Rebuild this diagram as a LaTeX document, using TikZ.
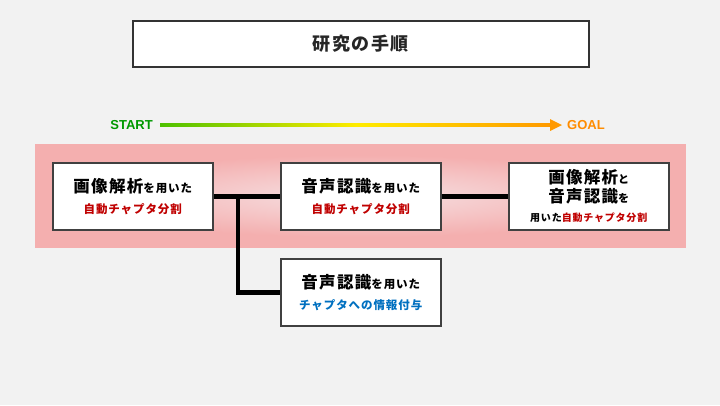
\documentclass[tikz,border=0pt]{standalone}
\usepackage{fontspec}
\newfontfamily\cjk{Noto Sans CJK JP}[LetterSpace=8]
\setmainfont{Liberation Sans}
\begin{document}
\begin{tikzpicture}[x=1pt,y=-1pt,
  box/.style={draw=black!75,line width=1.5pt,fill=white,minimum width=160pt,minimum height=67pt,anchor=north west,align=center,inner sep=0pt,font=\cjk\bfseries\fontsize{16}{21}\selectfont},
  conn/.style={line width=4.5pt}]
\def\bg{\fontsize{16.5}{21}\selectfont}
\def\sm{\fontsize{11.5}{21}\selectfont}
\definecolor{rd}{HTML}{C00000}
\definecolor{bl}{HTML}{0070C0}
\definecolor{pinkb}{HTML}{F4AFAF}
\definecolor{pinkc}{HTML}{F6E0E2}
\useasboundingbox (0,0) rectangle (720,405);
\fill[black!5] (0,0) rectangle (720,405);
\node[draw=black!80,line width=1.5pt,fill=white,minimum width=456pt,minimum height=46pt,anchor=north west,font=\cjk\bfseries\fontsize{18}{21}\selectfont,text=black!85] (title) at (132,20) {研究の手順};
\node[font=\bfseries\fontsize{13}{15}\selectfont,text=green!60!black,anchor=east,inner sep=0pt] (start) at (153,125) {START};
\node[font=\bfseries\fontsize{13}{15}\selectfont,text=orange!90!yellow,anchor=west,inner sep=0pt] (goal) at (567,125) {GOAL};
\shade[left color=green!65!black!70!yellow,right color=orange!80!yellow,middle color=yellow!85!orange] (160,123.5) rectangle (552,126.5);
\fill[orange!80!yellow] (550,119) -- (562,125) -- (550,131) -- cycle;
\fill[pinkb] (35,144) rectangle (686,248);
\shade[inner color=pinkc,outer color=pinkb] (60,155) rectangle (660,237);
\node[box] (b1) at (52,162) {{\bg 画像解析}{\sm を用いた}\\{\sm\color{rd}自動チャプタ分割}};
\node[box] (b2) at (280,162) {{\bg 音声認識}{\sm を用いた}\\{\sm\color{rd}自動チャプタ分割}};
\node[box,font=\cjk\bfseries\fontsize{16}{19}\selectfont] (b3) at (508,162) {{\fontsize{16.5}{19}\selectfont 画像解析}{\fontsize{11}{19}\selectfont と}\\{\fontsize{16.5}{19}\selectfont 音声認識}{\fontsize{11}{19}\selectfont を}\\{\fontsize{10}{17}\selectfont 用いた\color{rd}自動チャプタ分割}};
\node[box] (b4) at (280,258) {{\bg 音声認識}{\sm を用いた}\\{\sm\color{bl}チャプタへの情報付与}};
\coordinate (j) at (238,196);
\draw[conn] (b1.east) -- (b2.west);
\draw[conn] (b2.east) -- (b3.west);
\draw[conn] (j) |- (b4.west);
\end{tikzpicture}
\end{document}
